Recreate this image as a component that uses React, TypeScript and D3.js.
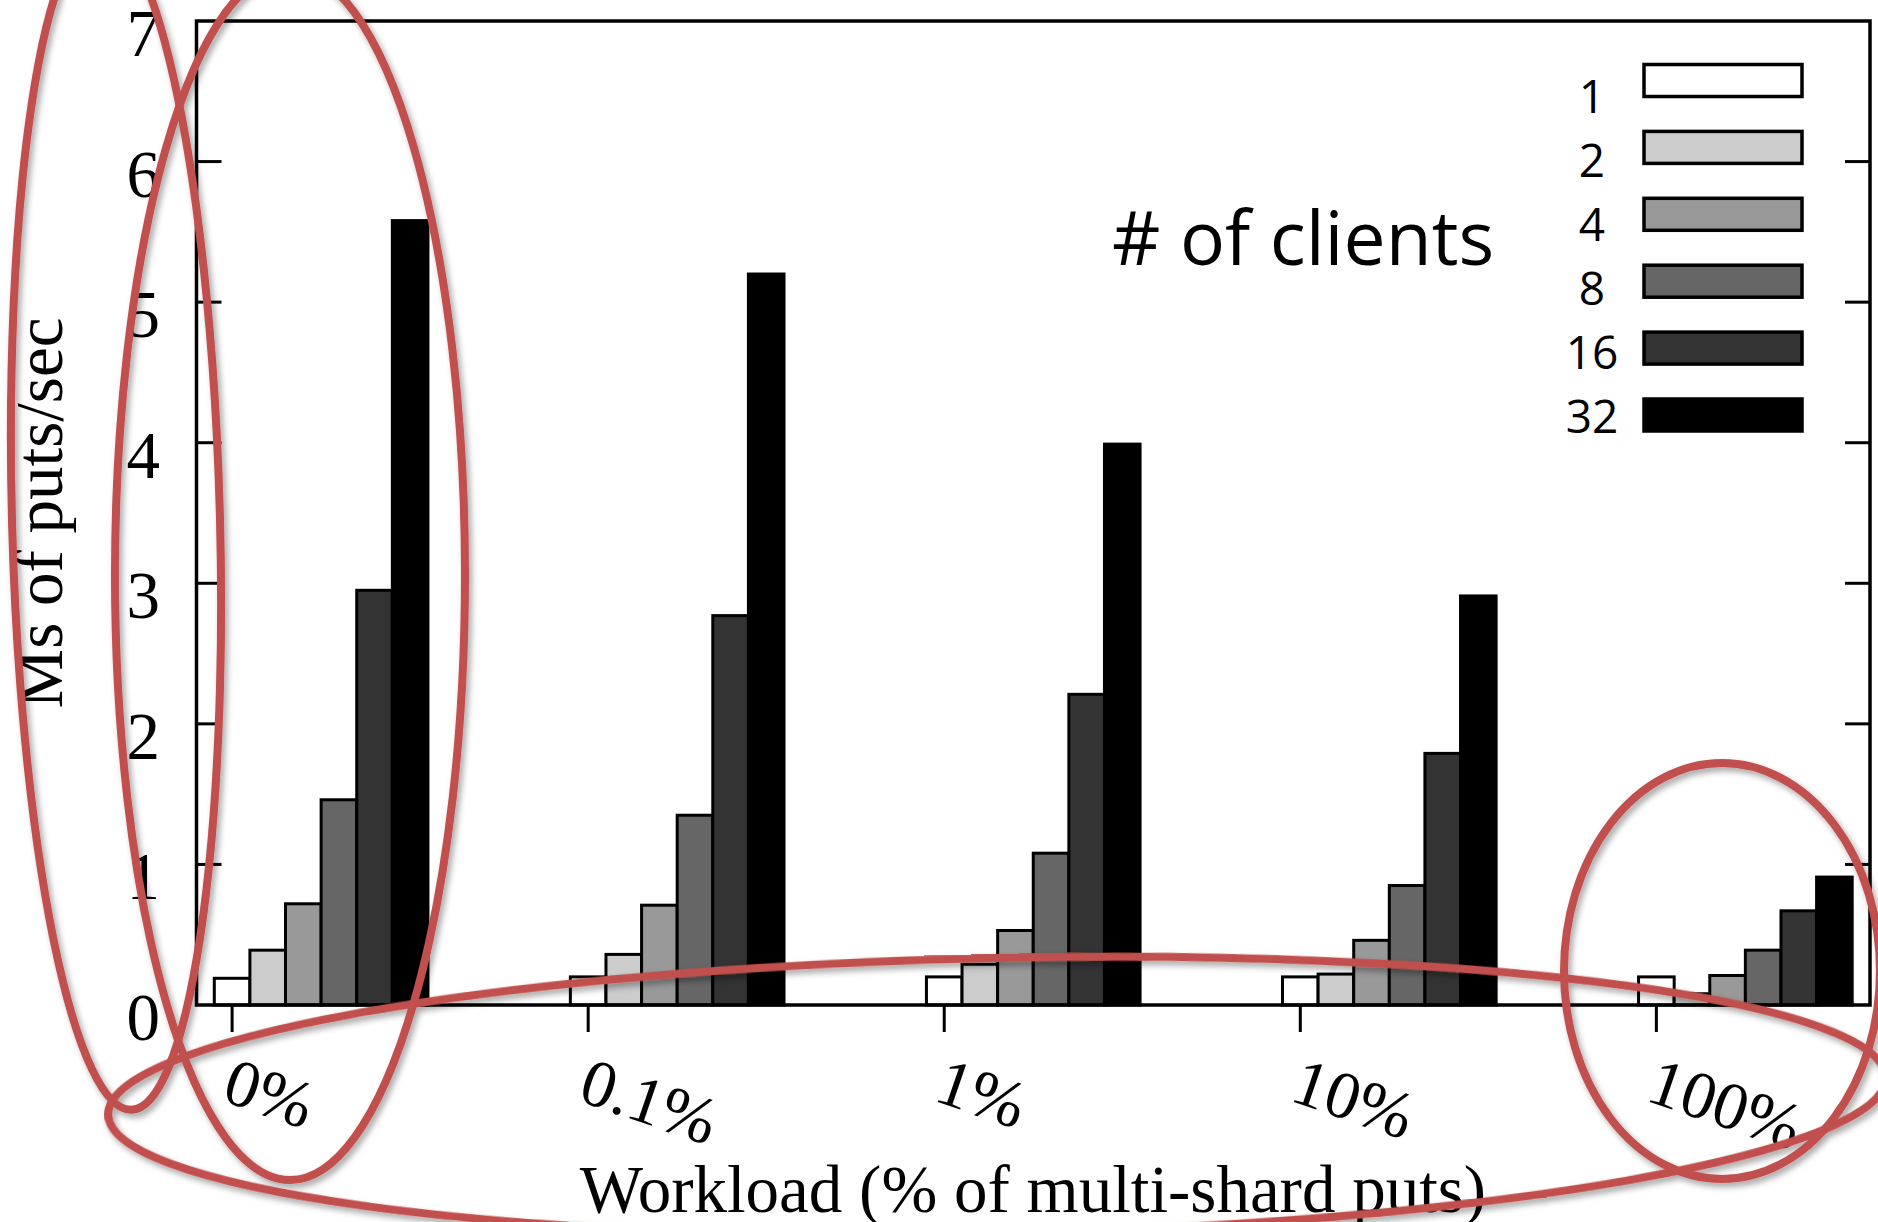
import React from "react";
import * as d3 from "d3";

const categories = ["0%", "0.1%", "1%", "10%", "100%"];
const clientCounts = ["1", "2", "4", "8", "16", "32"];
const clients1 = [0.19, 0.2, 0.2, 0.2, 0.2];
const clients2 = [0.39, 0.36, 0.29, 0.22, 0.08];
const clients4 = [0.72, 0.71, 0.53, 0.46, 0.21];
const clients8 = [1.46, 1.35, 1.08, 0.85, 0.39];
const clients16 = [2.95, 2.77, 2.21, 1.79, 0.67];
const clients32 = [5.58, 5.2, 3.99, 2.91, 0.91];
const yTicks = [0, 1, 2, 3, 4, 5, 6, 7];

const seriesValues = [clients1, clients2, clients4, clients8, clients16, clients32];
const fills = ["#ffffff", "#cccccc", "#999999", "#666666", "#333333", "#000000"];

const W = 1878;
const H = 1222;
const SERIF = "'Liberation Serif', 'Times New Roman', serif";
const SANS = "'Open Sans', 'Noto Sans', sans-serif";
const RED = "#c0504d";

export default function App() {
  const slotsPerGroup = 10;
  const x = d3.scaleLinear().domain([-1, 46]).range([196.5, 1870]);
  const y = d3.scaleLinear().domain([0, 7]).range([1005, 21]);
  const bw = x(1) - x(0);
  const left = x.range()[0];
  const right = x.range()[1];
  const bottom = y(0);
  const top = y(7);

  const bars: React.ReactNode[] = [];
  seriesValues.forEach((vals, j) => {
    vals.forEach((v, i) => {
      const cx = x(i * slotsPerGroup + j);
      bars.push(
        <rect
          key={`b${i}-${j}`}
          x={cx - bw / 2}
          y={y(v)}
          width={bw}
          height={bottom - y(v)}
          fill={fills[j]}
          stroke="#000"
          strokeWidth={3}
        />
      );
    });
  });

  return (
    <svg
      width={W}
      height={H}
      viewBox={`0 0 ${W} ${H}`}
      style={{ position: "absolute", left: 0, top: 0, background: "#fff" }}
    >
      <defs>
        <filter id="shadow" x="-20%" y="-20%" width="140%" height="140%">
          <feDropShadow dx="3" dy="4" stdDeviation="3" floodColor="#000" floodOpacity="0.35" />
        </filter>
      </defs>
      <rect x={0} y={0} width={W} height={H} fill="#fff" />
      {bars}
      {/* frame */}
      <rect
        x={left}
        y={top}
        width={right - left}
        height={bottom - top}
        fill="none"
        stroke="#000"
        strokeWidth={3.5}
      />
      {/* y ticks and labels */}
      {yTicks.map((t) => (
        <g key={`yt${t}`}>
          {t > 0 && t < 7 && (
            <>
              <line x1={left} x2={left + 25} y1={y(t)} y2={y(t)} stroke="#000" strokeWidth={3} />
              <line x1={right} x2={right - 25} y1={y(t)} y2={y(t)} stroke="#000" strokeWidth={3} />
            </>
          )}
          <text
            x={160}
            y={y(t) + 35}
            textAnchor="end"
            fontFamily={SERIF}
            fontSize={67}
            fill="#000"
          >
            {t}
          </text>
        </g>
      ))}
      {/* x ticks and labels */}
      {categories.map((c, i) => {
        const tx = x(i * slotsPerGroup);
        return (
          <g key={`xt${c}`}>
            <line x1={tx} x2={tx} y1={bottom} y2={bottom + 27} stroke="#000" strokeWidth={3} />
            <text
              transform={`translate(${tx - 12},${1100}) rotate(19)`}
              fontFamily={SERIF}
              fontSize={67}
              fill="#000"
            >
              {c}
            </text>
          </g>
        );
      })}
      {/* axis titles */}
      <text
        x={1033}
        y={1212}
        textAnchor="middle"
        fontFamily={SERIF}
        fontSize={67}
        fill="#000"
      >
        Workload (% of multi-shard puts)
      </text>
      <text
        transform={`translate(62,513) rotate(-90)`}
        textAnchor="middle"
        fontFamily={SERIF}
        fontSize={67}
        fill="#000"
      >
        Ms of puts/sec
      </text>
      {/* legend */}
      <text x={1112} y={265} fontFamily={SANS} fontSize={75} fill="#000">
        # of clients
      </text>
      {clientCounts.map((lbl, i) => {
        const cy = 80.5 + i * 66.9;
        return (
          <g key={`lg${lbl}`}>
            <rect
              x={1644}
              y={cy - 16}
              width={158}
              height={32}
              fill={fills[i]}
              stroke="#000"
              strokeWidth={3.5}
            />
            <text
              x={1592}
              y={113 + i * 64}
              textAnchor="middle"
              fontFamily={SANS}
              fontSize={46}
              fill="#000"
            >
              {lbl}
            </text>
          </g>
        );
      })}
      {/* red annotation ellipses */}
      <g fill="none" stroke={RED} strokeWidth={8} filter="url(#shadow)">
        <ellipse cx={116} cy={520} rx={104} ry={590} transform="rotate(-1.5 116 520)" />
        <ellipse cx={290} cy={575} rx={175} ry={605} />
        <ellipse cx={997} cy={1096} rx={889} ry={138} transform="rotate(-1.2 997 1096)" />
        <ellipse cx={1722} cy={971} rx={158} ry={208} />
      </g>
    </svg>
  );
}
